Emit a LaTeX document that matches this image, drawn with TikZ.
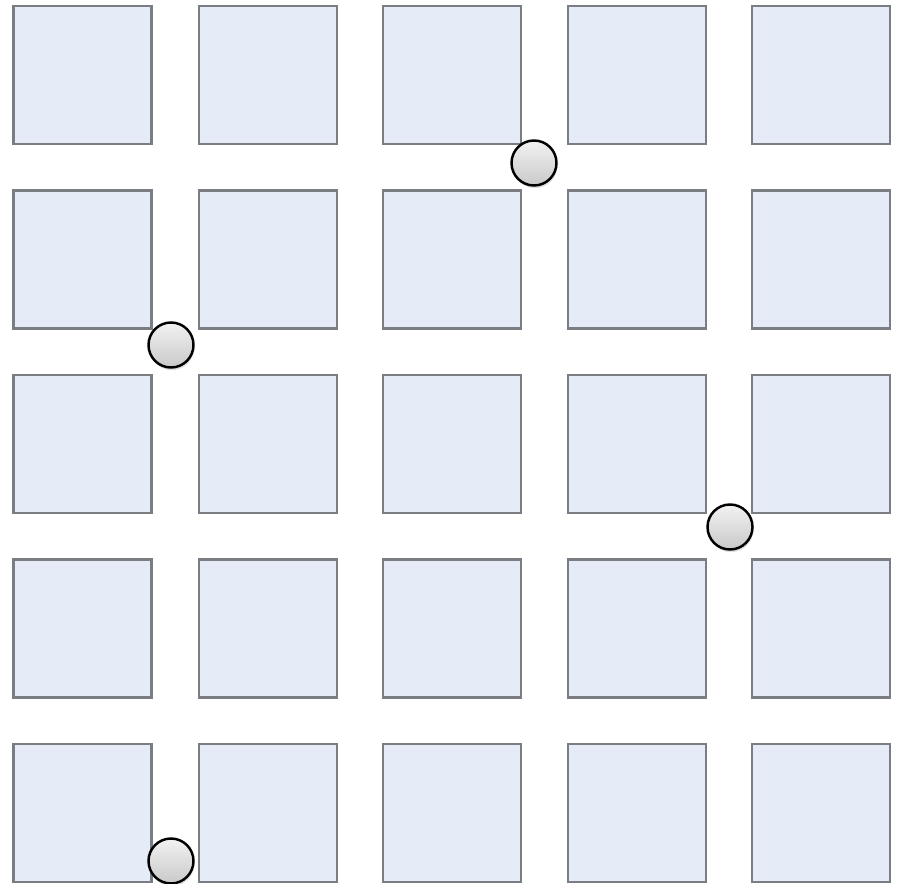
\documentclass[tikz,border=0pt]{standalone}
\usetikzlibrary{shadows}
\definecolor{cellfill}{HTML}{E5ECF7}
\definecolor{celledge}{HTML}{7A7D82}
\definecolor{dottop}{HTML}{F2F2F2}
\definecolor{dotbot}{HTML}{C9C9C9}
\tikzset{
  cell/.style={
    draw=celledge,
    line width=1.3pt,
    fill=cellfill,
    minimum size=138*0.02cm,
    inner sep=0pt,
    drop shadow={shadow xshift=-0.6pt, shadow yshift=-0.6pt, opacity=0.35}
  },
  dot/.style={
    circle,
    draw=black,
    line width=1.4pt,
    top color=dottop,
    bottom color=dotbot,
    minimum size=45*0.02cm,
    inner sep=0pt,
    drop shadow={shadow xshift=0.5pt, shadow yshift=-1.5pt, opacity=0.25}
  }
}

\begin{document}
\begin{tikzpicture}[x=0.02cm,y=-0.02cm]

\useasboundingbox (0,0) rectangle (898,884);

% 5 x 5 grid of cells
\foreach \r/\yc in {0/75,1/259.5,2/444,3/628.5,4/813}{
  \foreach \c/\xc in {0/82.5,1/268,2/452,3/637,4/821}{
    \node[cell] (cell-\r-\c) at (\xc,\yc) {};
  }
}

% dots in the gaps
\node[dot] (dota) at (534,163) {};
\node[dot] (dotb) at (171,345) {};
\node[dot] (dotc) at (730,527) {};
\node[dot] (dotd) at (171,861) {};

\end{tikzpicture}
\end{document}
